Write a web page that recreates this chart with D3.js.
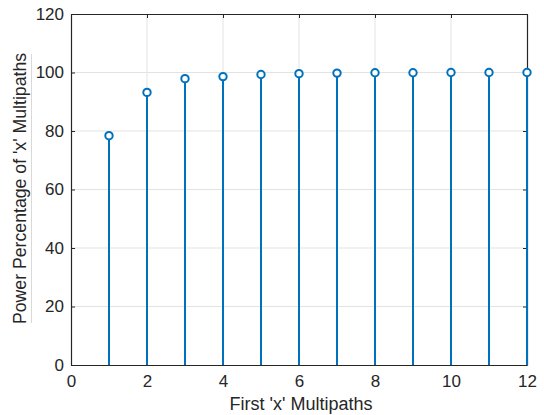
<!DOCTYPE html>
<html>
<head>
<meta charset="utf-8">
<script src="https://cdn.jsdelivr.net/npm/d3@7"></script>
<style>
  body { margin: 0; background: #fff; }
  svg { display: block; font-family: "Liberation Sans", Arial, sans-serif; }
</style>
</head>
<body>
<svg id="chart"></svg>
<script>
// data
const paths = [1, 2, 3, 4, 5, 6, 7, 8, 9, 10, 11, 12];
const powerPct = [78.4, 93.2, 97.9, 98.6, 99.3, 99.6, 99.8, 99.9, 99.9, 100, 100, 100];
const xTicks = [0, 2, 4, 6, 8, 10, 12];
const yTicks = [0, 20, 40, 60, 80, 100, 120];

const width = 544, height = 415;
const margin = { top: 14, right: 17, bottom: 50, left: 71 };

const svg = d3.select("#chart")
    .attr("width", width)
    .attr("height", height);

const x = d3.scaleLinear().domain([0, 12]).range([margin.left, width - margin.right]);
const y = d3.scaleLinear().domain([0, 120]).range([height - margin.bottom, margin.top]);

const axisColor = "#262626";
const stemColor = "#0072bd";

// grid
svg.append("g")
  .selectAll("line")
  .data(xTicks.slice(1, -1))
  .enter().append("line")
    .attr("x1", d => x(d)).attr("x2", d => x(d))
    .attr("y1", y(0)).attr("y2", y(120))
    .attr("stroke", "#e3e3e3")
    .attr("stroke-width", 1);

svg.append("g")
  .selectAll("line")
  .data(yTicks.slice(1, -1))
  .enter().append("line")
    .attr("x1", x(0)).attr("x2", x(12))
    .attr("y1", d => y(d)).attr("y2", d => y(d))
    .attr("stroke", "#e3e3e3")
    .attr("stroke-width", 1);

// axes (ticks inside, MATLAB style)
const fontSize = "17px";

const axBottom = svg.append("g")
    .attr("transform", `translate(0,${y(0)})`)
    .call(d3.axisBottom(x).tickValues(xTicks).tickSizeInner(-4).tickSizeOuter(0).tickPadding(10));
const axTop = svg.append("g")
    .attr("transform", `translate(0,${y(120)})`)
    .call(d3.axisTop(x).tickValues(xTicks).tickSizeInner(-4).tickSizeOuter(0).tickFormat(""));
const axLeft = svg.append("g")
    .attr("transform", `translate(${x(0)},0)`)
    .call(d3.axisLeft(y).tickValues(yTicks).tickSizeInner(-4).tickSizeOuter(0).tickPadding(7));
const axRight = svg.append("g")
    .attr("transform", `translate(${x(12)},0)`)
    .call(d3.axisRight(y).tickValues(yTicks).tickSizeInner(-4).tickSizeOuter(0).tickFormat(""));

[axBottom, axTop, axLeft, axRight].forEach(g => {
  g.select(".domain").attr("stroke", axisColor).attr("stroke-width", 1.2);
  g.selectAll(".tick line").attr("stroke", axisColor);
  g.selectAll("text")
      .attr("fill", axisColor)
      .style("font-size", fontSize)
      .style("font-family", "'Liberation Sans', Arial, sans-serif");
});

// stems
svg.append("g")
  .selectAll("line")
  .data(paths)
  .enter().append("line")
    .attr("x1", d => x(d)).attr("x2", d => x(d))
    .attr("y1", y(0))
    .attr("y2", (d, i) => y(powerPct[i]))
    .attr("stroke", stemColor)
    .attr("stroke-width", 2);

svg.append("g")
  .selectAll("circle")
  .data(paths)
  .enter().append("circle")
    .attr("cx", d => x(d))
    .attr("cy", (d, i) => y(powerPct[i]))
    .attr("r", 3.7)
    .attr("fill", "#fff")
    .attr("stroke", stemColor)
    .attr("stroke-width", 2);

// axis labels
svg.append("text")
    .attr("x", (x(0) + x(12)) / 2 + 2)
    .attr("y", 410)
    .attr("text-anchor", "middle")
    .attr("fill", axisColor)
    .style("font-size", "18px")
    .text("First 'x' Multipaths");

svg.append("line")
    .attr("x1", 31.5).attr("x2", 31.5)
    .attr("y1", 54).attr("y2", 323)
    .attr("stroke", "#d9d9d9")
    .attr("stroke-width", 1);

svg.append("text")
    .attr("transform", `translate(26,${(53 + 324) / 2}) rotate(-90)`)
    .attr("text-anchor", "middle")
    .attr("fill", axisColor)
    .style("font-size", "17.7px")
    .text("Power Percentage of 'x' Multipaths");
</script>
</body>
</html>
